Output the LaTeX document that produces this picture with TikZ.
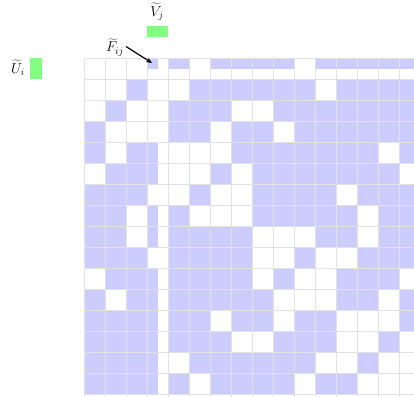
\documentclass[tikz,border=0pt]{standalone}
\usetikzlibrary{arrows.meta}
\definecolor{cellblue}{HTML}{CCCCFF}
\definecolor{gridgray}{HTML}{E2E2E2}
\definecolor{bargreen}{HTML}{80FF80}
\begin{document}
\begin{tikzpicture}[x=1pt,y=-1pt,
  cellfill/.style={fill=cellblue},
  gridline/.style={draw=gridgray,line width=0.9pt},
  greenbar/.style={fill=bargreen,draw=none,inner sep=0pt,minimum width=#1},
  lbl/.style={font=\Large,inner sep=0pt},
  pointer/.style={-{Stealth[length=6pt,width=5pt]},line width=1.2pt,black}]
\useasboundingbox (0,0) rectangle (414,396);
\begin{scope}
\clip (0,0) rectangle (414,396);
\foreach \r/\row in {
 0/{0,0,0,1,1,0,1,1,1,1,0,1,1,1,1,1},
 1/{0,0,1,0,0,1,1,1,1,1,1,0,1,1,1,1},
 2/{0,1,0,0,1,1,1,0,0,1,1,1,1,1,1,1},
 3/{1,0,0,0,1,1,0,1,1,0,1,1,1,1,1,1},
 4/{1,0,1,1,0,0,0,1,1,1,1,1,1,1,0,1},
 5/{0,1,1,1,0,0,1,0,1,1,1,1,1,1,1,0},
 6/{1,1,1,0,0,1,0,0,1,1,1,1,0,1,1,1},
 7/{1,1,0,1,1,0,0,0,1,1,1,1,1,0,1,1},
 8/{1,1,0,1,1,1,1,1,0,0,0,1,1,0,1,1},
 9/{1,1,1,0,1,1,1,1,0,0,1,0,0,1,1,1},
 10/{0,1,1,1,1,1,1,1,0,1,0,0,1,1,1,0},
 11/{1,0,1,1,1,1,1,1,1,0,0,0,1,1,0,1},
 12/{1,1,1,1,1,1,0,1,1,0,1,1,0,0,0,1},
 13/{1,1,1,1,1,1,1,0,0,1,1,1,0,0,1,0},
 14/{1,1,1,1,0,1,1,1,1,1,1,0,0,1,0,0},
 15/{1,1,1,1,1,0,1,1,1,1,0,1,1,0,0,0}}{
  \foreach \v [count=\c from 0] in \row {
    \ifnum\v=1
      \pgfmathsetmacro\w{\c==3 ? 10.5 : 21}
      \pgfmathsetmacro\h{\r==0 ? 10.5 : 21}
      \fill[cellfill] ({84+21*\c},{58+21*\r}) rectangle ++(\w,\h);
    \fi
  }
}
\foreach \i in {0,...,16} {
  \draw[gridline] ({84+21*\i},58) -- ({84+21*\i},400);
  \draw[gridline] (84,{58+21*\i}) -- (420,{58+21*\i});
}
\end{scope}
\node[greenbar=12pt,minimum height=21pt] (ui) at (36,68.5) {};
\node[greenbar=21pt,minimum height=11pt] (vj) at (157.5,31.5) {};
\node[lbl] (uilabel) at (18,68) {$\widetilde{U}_i$};
\node[lbl] (vjlabel) at (157,12) {$\widetilde{V}_j$};
\node[lbl] (fijlabel) at (115,47.5) {$\widetilde{F}_{ij}$};
\coordinate (fstart) at (126,46.5);
\coordinate (fij) at (152,63);
\draw[pointer] (fstart) -- (fij);
\end{tikzpicture}
\end{document}
